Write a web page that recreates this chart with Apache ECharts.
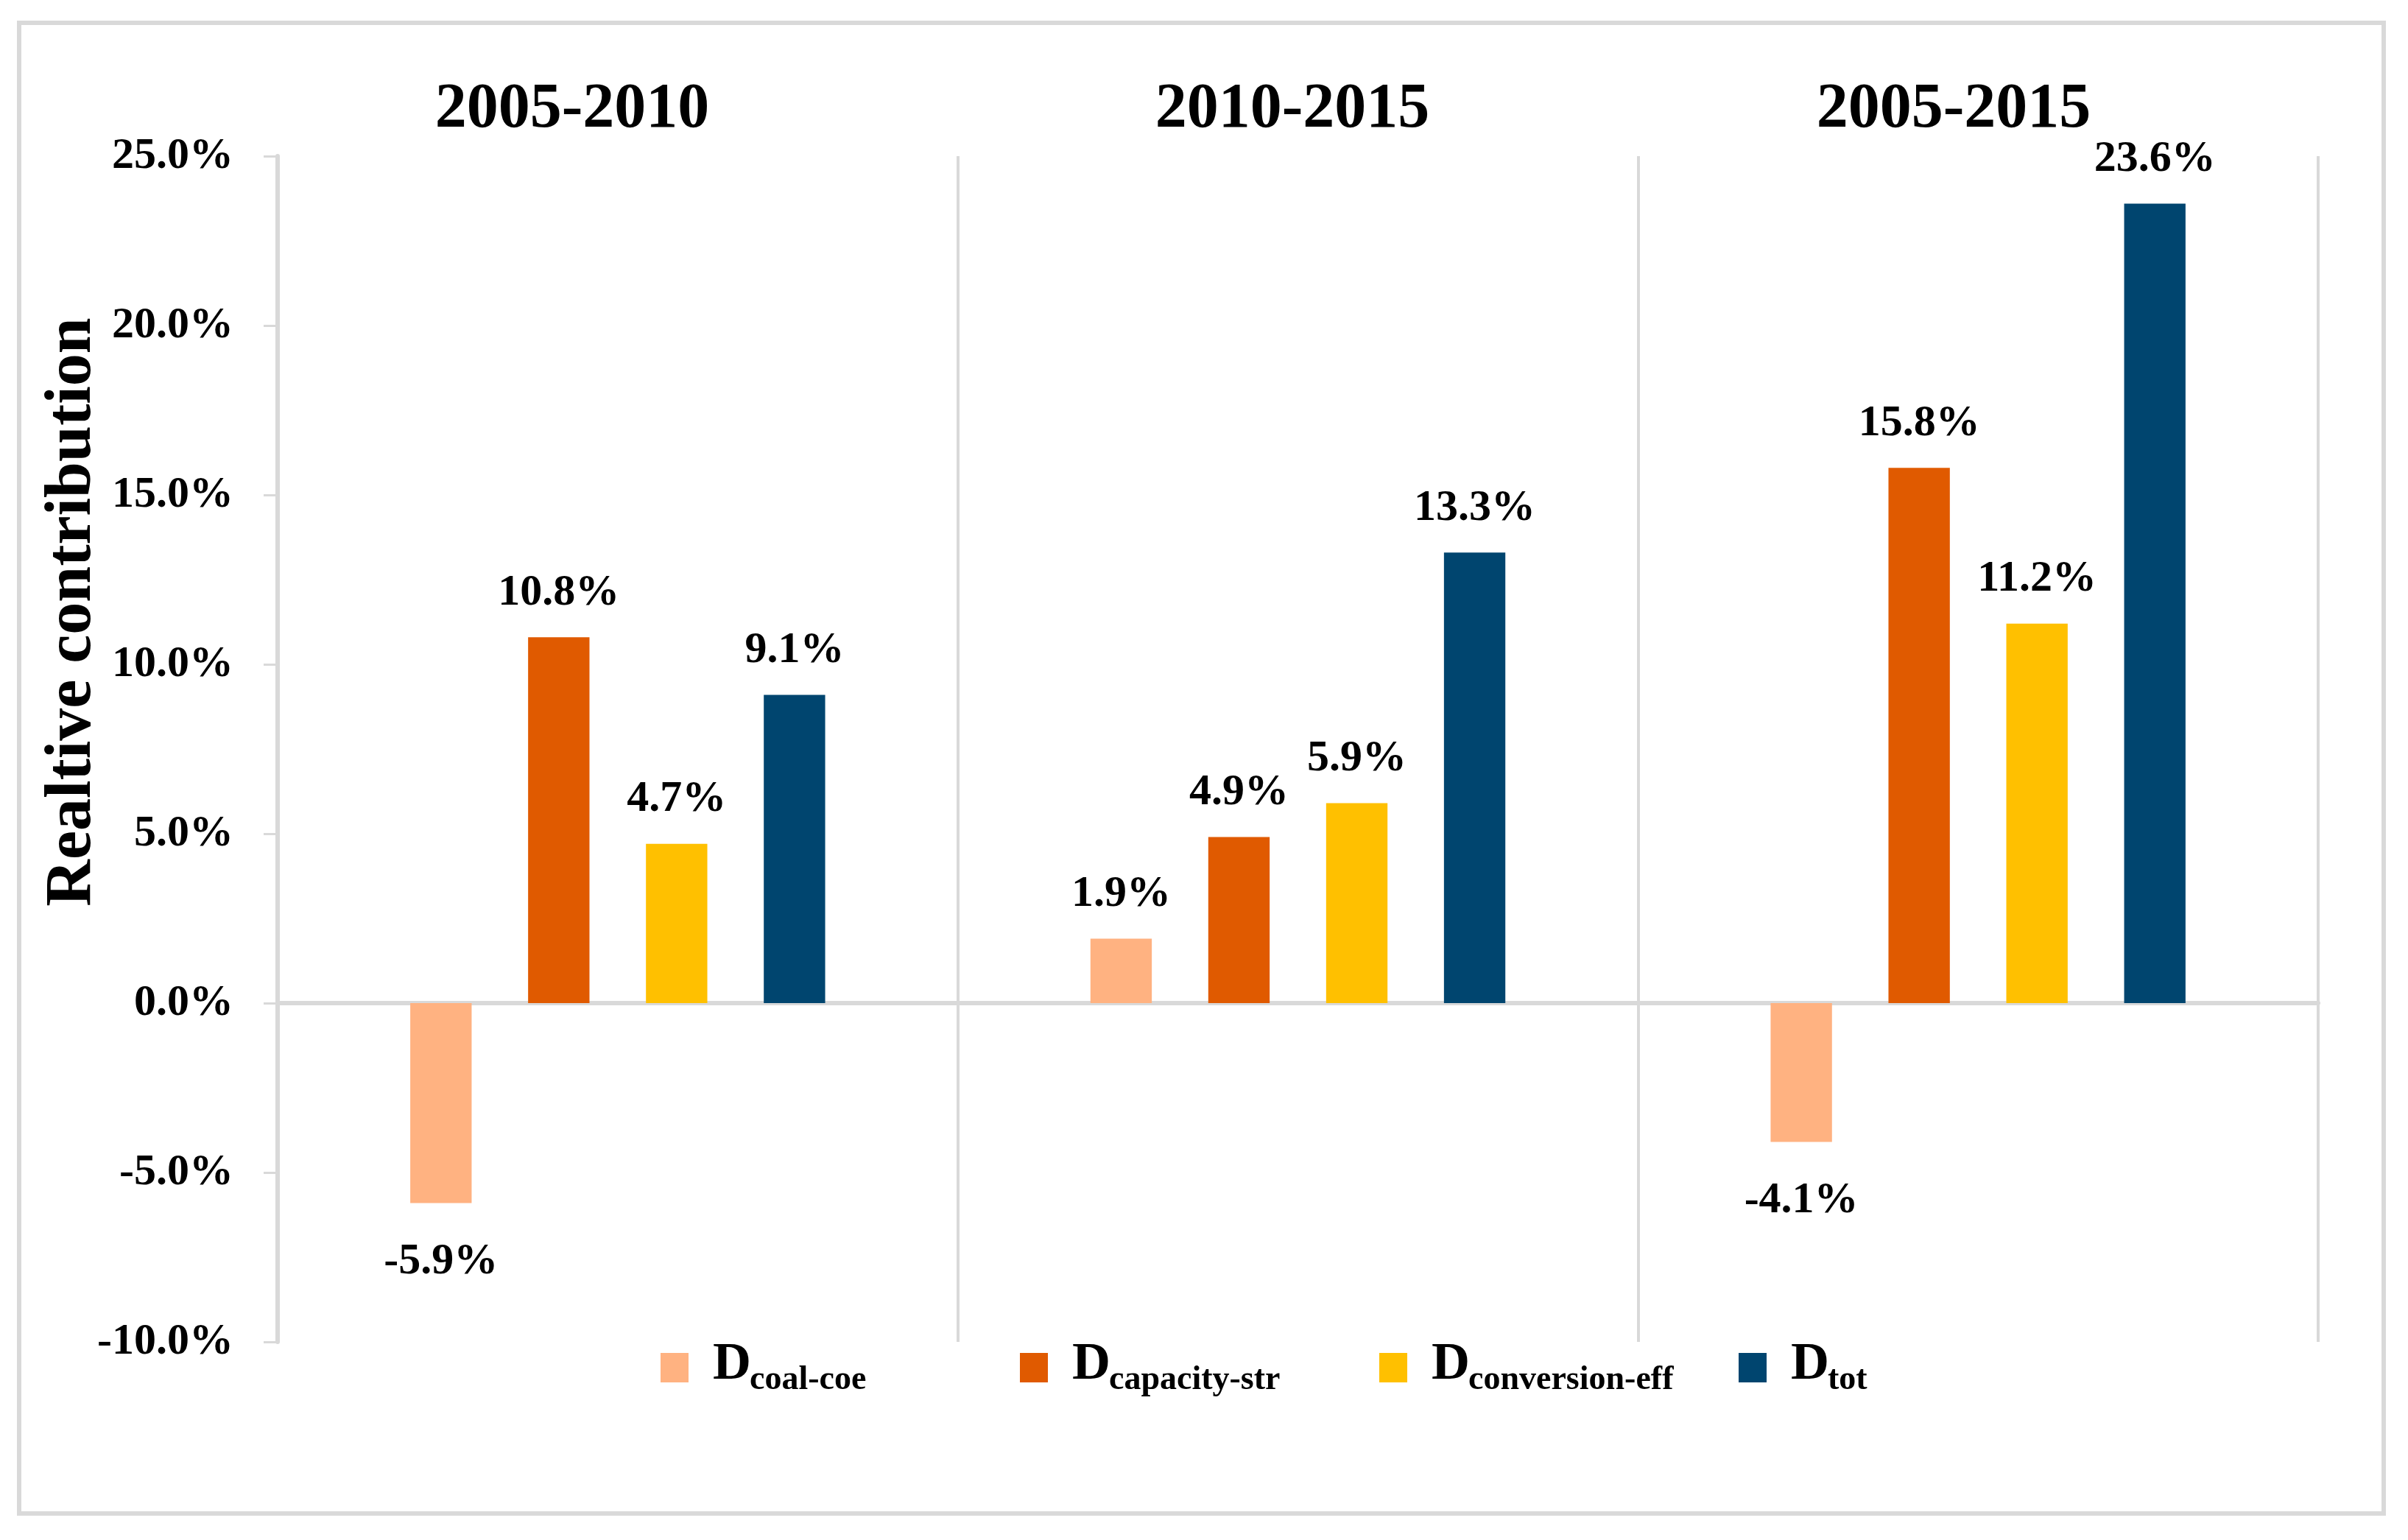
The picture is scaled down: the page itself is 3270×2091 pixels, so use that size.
<!DOCTYPE html>
<html>
<head>
<meta charset="utf-8">
<script src="https://cdn.jsdelivr.net/npm/echarts@6/dist/echarts.min.js"></script>
<style>
html,body{margin:0;padding:0;background:#fff;}
#c{width:3270px;height:2091px;}
</style>
</head>
<body>
<div id="c"></div>
<script>
// ---- data ----
const periods = ['2005-2010', '2010-2015', '2005-2015'];
const seriesNames = ['Dcoal-coe', 'Dcapacity-str', 'Dconversion-eff', 'Dtot'];
const coalCoe = [-5.9, 1.9, -4.1];
const capacityStr = [10.8, 4.9, 15.8];
const conversionEff = [4.7, 5.9, 11.2];
const tot = [9.1, 13.3, 23.6];
const yTicks = { min: -10, max: 25, interval: 5 };
const yAxisTitle = 'Realtive contribution';

const colors = ['#FFB281', '#E05A00', '#FFC000', '#00456F'];
const FONT = '"Liberation Serif", "Times New Roman", serif';
const GRAY = '#D9D9D9';

const chart = echarts.init(document.getElementById('c'), null, { renderer: 'canvas' });

function mkData(arr) {
  return arr.map(v => ({
    value: v,
    label: { distance: v < 0 ? 50 : 30 }
  }));
}

const allSeries = [coalCoe, capacityStr, conversionEff, tot].map((arr, i) => ({
  name: seriesNames[i],
  type: 'bar',
  data: mkData(arr),
  barGap: '92%',
  barCategoryGap: '39%',
  itemStyle: { color: colors[i] },
  label: {
    show: true,
    position: 'outside',
    formatter: p => p.value.toFixed(1) + '%',
    fontFamily: FONT,
    fontWeight: 'bold',
    fontSize: 60,
    color: '#000'
  }
}));

const titleCenters = [777, 1755, 2653];

const option = {
  backgroundColor: '#fff',
  animation: false,
  title: periods.map((p, i) => ({
    text: p,
    left: titleCenters[i] - 5,
    top: 102,
    textAlign: 'center',
    textStyle: { fontFamily: FONT, fontWeight: 'bold', fontSize: 86, color: '#000' }
  })),
  grid: { left: 377, right: 122, top: 212, bottom: 269, containLabel: false },
  legend: {
    data: seriesNames,
    left: 892,
    top: 1812,
    itemWidth: 38,
    itemHeight: 40,
    itemGap: 10,
    icon: 'rect',
    selectedMode: false,
    formatter: n => '{d|D}{s|' + n.slice(1) + '}',
    textStyle: {
      color: '#000',
      rich: {
        d: { fontFamily: FONT, fontWeight: 'bold', fontSize: 72, lineHeight: 80, verticalAlign: 'top', width: 50, padding: [0, 0, 0, 28], color: '#000' },
        s: { fontFamily: FONT, fontWeight: 'bold', fontSize: 46, lineHeight: 40, verticalAlign: 'bottom', width: 357, color: '#000' }
      }
    }
  },
  xAxis: {
    type: 'category',
    data: periods,
    axisLine: { show: true, onZero: true, lineStyle: { color: GRAY, width: 6 } },
    axisTick: { show: false },
    axisLabel: { show: false },
    splitLine: { show: true, lineStyle: { color: GRAY, width: 4 } }
  },
  yAxis: {
    type: 'value',
    min: yTicks.min,
    max: yTicks.max,
    interval: yTicks.interval,
    axisLine: { show: true, lineStyle: { color: GRAY, width: 6 } },
    axisTick: { show: true, length: 19, lineStyle: { color: GRAY, width: 3 } },
    splitLine: { show: false },
    axisLabel: {
      formatter: v => v.toFixed(1) + '%',
      fontFamily: FONT,
      fontWeight: 'bold',
      fontSize: 60,
      color: '#000',
      margin: 60
    }
  },
  graphic: [
    {
      type: 'rect',
      shape: { x: 26, y: 31, width: 3211, height: 2024 },
      style: { fill: 'none', stroke: GRAY, lineWidth: 6 },
      silent: true
    },
    {
      type: 'text',
      x: 99,
      y: 831,
      rotation: Math.PI / 2,
      style: {
        text: yAxisTitle,
        align: 'center',
        verticalAlign: 'middle',
        font: 'bold 88px "Liberation Serif", "Times New Roman", serif',
        fill: '#000'
      }
    }
  ],
  series: allSeries
};

chart.setOption(option);
</script>
</body>
</html>
